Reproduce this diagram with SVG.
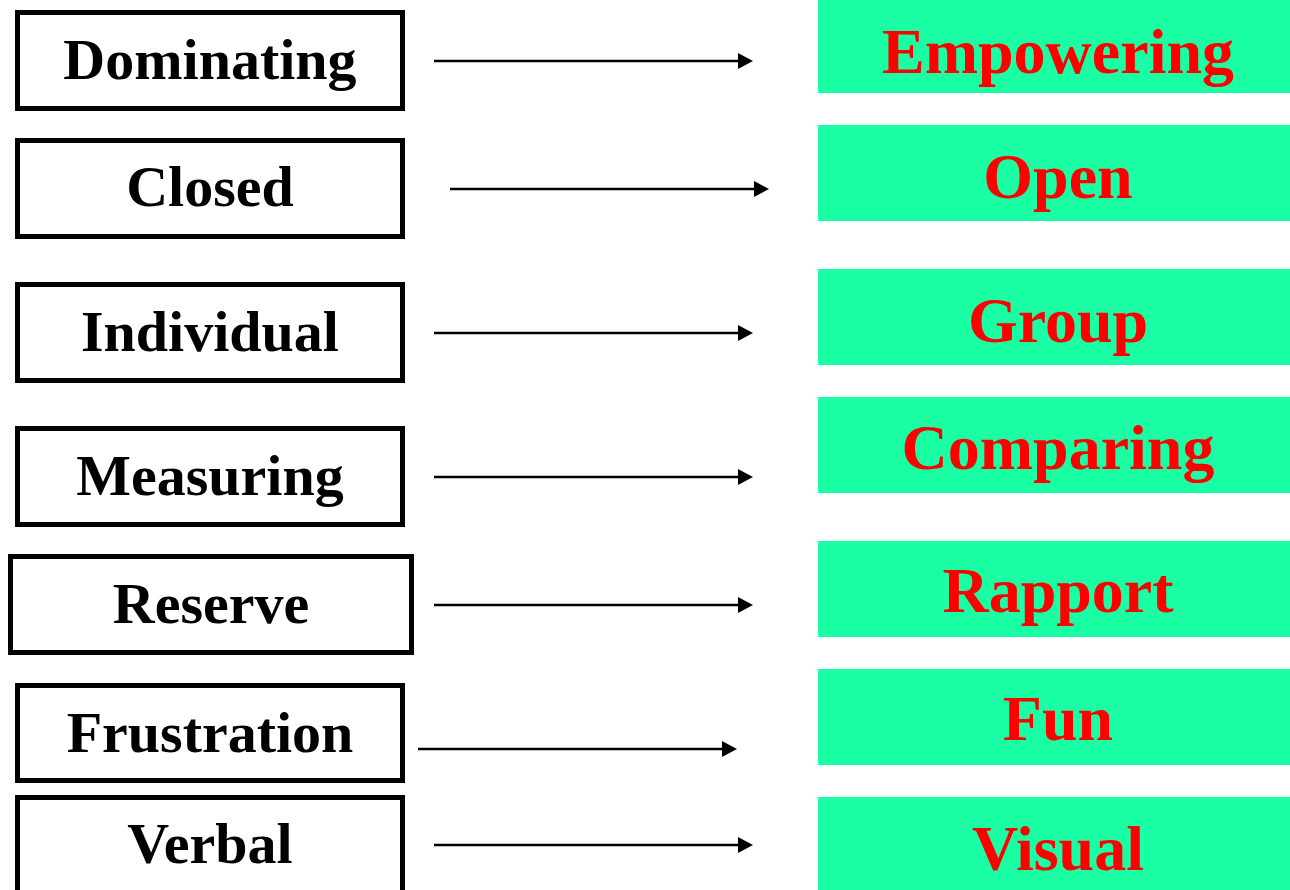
<svg xmlns="http://www.w3.org/2000/svg" width="1290" height="890" viewBox="0 0 1290 890">
<style>
.box{fill:#fff;stroke:#000;stroke-width:5}
.grn{fill:#1BFFA4}
.bt{font-family:"Liberation Serif","Times New Roman",serif;font-weight:bold;font-size:58px;fill:#000;text-anchor:middle}
.rt{font-family:"Liberation Serif","Times New Roman",serif;font-weight:bold;font-size:64px;fill:#FF0000;text-anchor:middle}
.arr{stroke:#000;stroke-width:2.5;fill:none;marker-end:url(#ah)}
</style>
<defs>
<marker id="ah" markerUnits="userSpaceOnUse" markerWidth="15" markerHeight="16" refX="0" refY="8" orient="auto" overflow="visible">
<path d="M0,0 L15,8 L0,16 Z" fill="#000"/>
</marker>
</defs>
<rect width="1290" height="890" fill="#fff"/>
<g id="n-dominating"><rect class="box" x="17.5" y="12.5" width="385" height="96"/><text class="bt" x="210" y="79">Dominating</text></g>
<g id="n-closed"><rect class="box" x="17.5" y="140.5" width="385" height="96"/><text class="bt" x="210" y="206">Closed</text></g>
<g id="n-individual"><rect class="box" x="17.5" y="284.5" width="385" height="96"/><text class="bt" x="210" y="351">Individual</text></g>
<g id="n-measuring"><rect class="box" x="17.5" y="428.5" width="385" height="96"/><text class="bt" x="210" y="495">Measuring</text></g>
<g id="n-reserve"><rect class="box" x="10.5" y="556.5" width="401" height="96"/><text class="bt" x="211" y="623">Reserve</text></g>
<g id="n-frustration"><rect class="box" x="17.5" y="685.5" width="385" height="95"/><text class="bt" x="210" y="752">Frustration</text></g>
<g id="n-verbal"><rect class="box" x="17.5" y="797.5" width="385" height="100"/><text class="bt" x="210" y="863">Verbal</text></g>
<g id="n-empowering"><rect class="grn" x="818" y="0" width="472" height="93"/><text class="rt" x="1058" y="73">Empowering</text></g>
<g id="n-open"><rect class="grn" x="818" y="125" width="472" height="96"/><text class="rt" x="1058" y="198">Open</text></g>
<g id="n-group"><rect class="grn" x="818" y="269" width="472" height="96"/><text class="rt" x="1058" y="342">Group</text></g>
<g id="n-comparing"><rect class="grn" x="818" y="397" width="472" height="96"/><text class="rt" x="1058" y="469">Comparing</text></g>
<g id="n-rapport"><rect class="grn" x="818" y="541" width="472" height="96"/><text class="rt" x="1058" y="612">Rapport</text></g>
<g id="n-fun"><rect class="grn" x="818" y="669" width="472" height="96"/><text class="rt" x="1058" y="740">Fun</text></g>
<g id="n-visual"><rect class="grn" x="818" y="797" width="472" height="93"/><text class="rt" x="1058" y="870">Visual</text></g>
<g id="connectors">
<line class="arr" x1="434" y1="61" x2="738" y2="61"/>
<line class="arr" x1="450" y1="189" x2="754" y2="189"/>
<line class="arr" x1="434" y1="333" x2="738" y2="333"/>
<line class="arr" x1="434" y1="477" x2="738" y2="477"/>
<line class="arr" x1="434" y1="605" x2="738" y2="605"/>
<line class="arr" x1="418" y1="749" x2="722" y2="749"/>
<line class="arr" x1="434" y1="845" x2="738" y2="845"/>
</g>
</svg>
